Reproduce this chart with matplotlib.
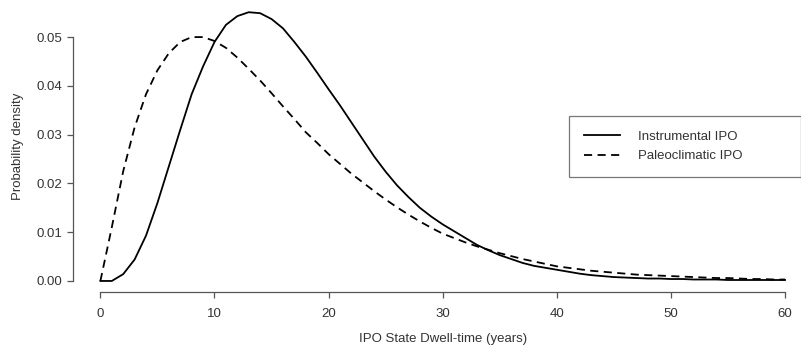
import numpy as np
import matplotlib.pyplot as plt

plt.rcParams['font.family'] = ['Liberation Sans', 'DejaVu Sans']

# dwell time (years)
years = np.arange(0, 61)

# Instrumental IPO density
instrumental = [0.0, 0.0, 0.0014, 0.0044, 0.0093, 0.0160, 0.0235, 0.0310, 0.0383, 0.0440,
                0.0490, 0.0525, 0.0543, 0.0551, 0.0549, 0.0537, 0.0518, 0.0490, 0.0460, 0.0427,
                0.0393, 0.0360, 0.0325, 0.0290, 0.0255, 0.0224, 0.0196, 0.0172, 0.0150, 0.0132,
                0.0116, 0.0102, 0.0088, 0.0074, 0.0063, 0.0053, 0.0045, 0.0037, 0.0031, 0.0027,
                0.0023, 0.0019, 0.0015, 0.0012, 0.0010, 0.0008, 0.0007, 0.0006, 0.0005, 0.0005,
                0.0004, 0.0004, 0.0003, 0.0003, 0.0003, 0.0002, 0.0002, 0.0002, 0.0002, 0.0002,
                0.0002]

# Paleoclimatic IPO density
paleo = [0.0, 0.0110, 0.0225, 0.0315, 0.0383, 0.0432, 0.0467, 0.0490, 0.0500, 0.0500,
         0.0492, 0.0478, 0.0458, 0.0435, 0.0411, 0.0385, 0.0358, 0.0332, 0.0305, 0.0283,
         0.0260, 0.0240, 0.0220, 0.0202, 0.0184, 0.0167, 0.0151, 0.0136, 0.0122, 0.0109,
         0.0097, 0.0088, 0.0079, 0.0071, 0.0064, 0.0057, 0.0051, 0.0045, 0.0040, 0.0035,
         0.0030, 0.0027, 0.0024, 0.0021, 0.0019, 0.0017, 0.0015, 0.0013, 0.0012, 0.0011,
         0.0010, 0.0009, 0.0008, 0.0007, 0.0006, 0.0006, 0.0005, 0.0004, 0.0004, 0.0003,
         0.0003]

xticks = [0, 10, 20, 30, 40, 50, 60]
yticks = [0.00, 0.01, 0.02, 0.03, 0.04, 0.05]
ytick_labels = ['0.00', '0.01', '0.02', '0.03', '0.04', '0.05']

axcol = '#555555'
txtcol = '#333333'
fs = 9.5

fig = plt.figure(figsize=(8.01, 3.5), dpi=100)
ax = fig.add_axes([73 / 801, 1 - 291.7 / 350, 728 / 801, 290.7 / 350])

ax.plot(years, instrumental, color='black', lw=1.3, label='Instrumental IPO')
ax.plot(years, paleo, color='black', lw=1.3, dashes=(4.5, 3), label='Paleoclimatic IPO')

ax.set_xlim(-2.4, 61.4)
ax.set_ylim(-0.0022, 0.0574)

for s in ['top', 'right']:
    ax.spines[s].set_visible(False)
ax.spines['left'].set_bounds(0, 0.05)
ax.spines['bottom'].set_bounds(0, 60)
for s in ['left', 'bottom']:
    ax.spines[s].set_color(axcol)
    ax.spines[s].set_linewidth(0.9)

ax.set_xticks(xticks)
ax.set_yticks(yticks)
ax.set_yticklabels(ytick_labels)
ax.tick_params(axis='both', colors=axcol, labelcolor=txtcol, labelsize=fs, length=4.5, width=0.9)
ax.tick_params(axis='x', pad=7)
ax.tick_params(axis='y', pad=3.5)

ax.set_xlabel('IPO State Dwell-time (years)', fontsize=fs, color=txtcol)
ax.set_ylabel('Probability density', fontsize=fs, color=txtcol)
ax.xaxis.set_label_coords(0.508, -0.143)
ax.yaxis.set_label_coords(-0.067, 0.5)

leg = ax.legend(loc='upper left', bbox_to_anchor=(569 / 801, 1 - 116 / 350, 232 / 801, 0.0),
                bbox_transform=fig.transFigure, mode='expand', borderaxespad=0,
                fontsize=fs, frameon=True, fancybox=False, handlelength=2.8,
                handletextpad=1.3, borderpad=1.1, labelspacing=0.55)
leg.get_frame().set_edgecolor(axcol)
leg.get_frame().set_linewidth(0.9)
for t in leg.get_texts():
    t.set_color(txtcol)

fig.savefig('out.png', dpi=100)
